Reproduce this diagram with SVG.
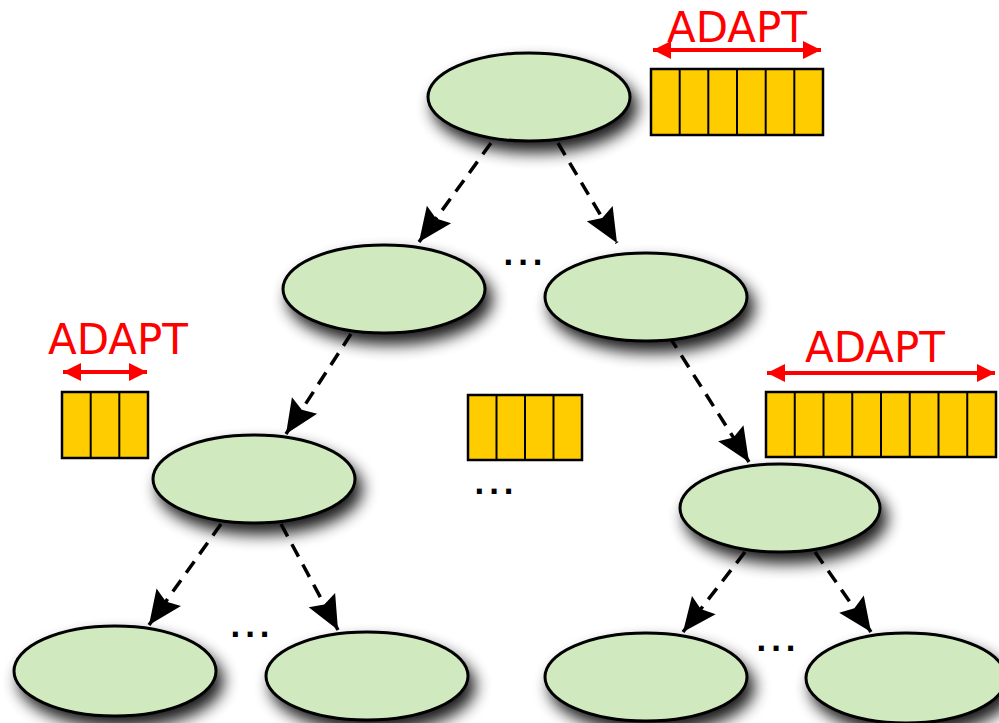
<svg xmlns="http://www.w3.org/2000/svg" width="999" height="723" viewBox="0 0 999 723">
<defs>
<filter id="sh" x="-30%" y="-40%" width="170%" height="200%">
<feGaussianBlur in="SourceAlpha" stdDeviation="8"/>
<feOffset dx="6" dy="10" result="b"/>
<feComponentTransfer><feFuncA type="linear" slope="0.9"/></feComponentTransfer>
<feMerge><feMergeNode/><feMergeNode in="SourceGraphic"/></feMerge>
</filter>
<marker id="ah" markerUnits="userSpaceOnUse" markerWidth="40" markerHeight="32" refX="34" refY="15" orient="auto" overflow="visible">
<path d="M0,0 L34,15 L0,30 L5,15 Z" fill="#000" stroke="none"/>
</marker>
<marker id="ra" markerUnits="userSpaceOnUse" markerWidth="20" markerHeight="20" refX="18" refY="9" orient="auto-start-reverse" overflow="visible">
<path d="M0,0 L18,9 L0,18 Z" fill="#ff0000" stroke="none"/>
</marker>
</defs>
<style>
.n{fill:#d0e9bf;stroke:#000;stroke-width:3}
.c{fill:none;stroke:#000;stroke-width:3.5;stroke-dasharray:14 9;marker-end:url(#ah)}
.buf{fill:#ffcc00;stroke:#000;stroke-width:2.5}
.ln{stroke:#000;stroke-width:2}
.ra{stroke:#ff0000;stroke-width:4;marker-start:url(#ra);marker-end:url(#ra)}
.t{font-family:"DejaVu Sans",sans-serif;font-size:42px;fill:#ff0000}
.d{font-family:"DejaVu Sans",sans-serif;font-weight:bold;font-size:28px;fill:#000;letter-spacing:4px}
</style>
<rect width="999" height="723" fill="#fff"/>

<g id="connectors">
<line class="c" x1="491" y1="143" x2="419" y2="242"/>
<line class="c" x1="558" y1="143" x2="617" y2="243"/>
<line class="c" x1="351" y1="334" x2="286" y2="434"/>
<line class="c" x1="669" y1="336" x2="749" y2="462"/>
<line class="c" x1="221" y1="524" x2="149" y2="625"/>
<line class="c" x1="281" y1="524" x2="338" y2="630"/>
<line class="c" x1="745" y1="552" x2="683" y2="632"/>
<line class="c" x1="815" y1="552" x2="871" y2="632"/>
</g>

<g id="n0"><ellipse class="n" cx="529" cy="97" rx="101" ry="44" filter="url(#sh)"/></g>
<g id="n1"><ellipse class="n" cx="384" cy="289" rx="101" ry="44" filter="url(#sh)"/></g>
<g id="n2"><ellipse class="n" cx="646" cy="297" rx="101" ry="44" filter="url(#sh)"/></g>
<g id="n3"><ellipse class="n" cx="254" cy="479" rx="101" ry="44" filter="url(#sh)"/></g>
<g id="n4"><ellipse class="n" cx="780" cy="508" rx="100" ry="44" filter="url(#sh)"/></g>
<g id="n5"><ellipse class="n" cx="115" cy="671" rx="101" ry="45" filter="url(#sh)"/></g>
<g id="n6"><ellipse class="n" cx="367" cy="676" rx="101" ry="44" filter="url(#sh)"/></g>
<g id="n7"><ellipse class="n" cx="646" cy="677" rx="101" ry="44" filter="url(#sh)"/></g>
<g id="n8"><ellipse class="n" cx="906" cy="678" rx="100" ry="45" filter="url(#sh)"/></g>

<g id="buf-top">
<rect class="buf" x="651" y="69" width="172" height="66"/>
<line class="ln" x1="679.7" y1="69" x2="679.7" y2="135"/>
<line class="ln" x1="708.3" y1="69" x2="708.3" y2="135"/>
<line class="ln" x1="737" y1="69" x2="737" y2="135"/>
<line class="ln" x1="765.7" y1="69" x2="765.7" y2="135"/>
<line class="ln" x1="794.3" y1="69" x2="794.3" y2="135"/>
<line class="ra" x1="653" y1="50" x2="821" y2="50"/>
<text class="t" x="737" y="42" text-anchor="middle">ADAPT</text>
</g>

<g id="buf-left">
<rect class="buf" x="62" y="392" width="86" height="66"/>
<line class="ln" x1="90.7" y1="392" x2="90.7" y2="458"/>
<line class="ln" x1="119.3" y1="392" x2="119.3" y2="458"/>
<line class="ra" x1="63" y1="372" x2="147" y2="372"/>
<text class="t" x="118" y="354" text-anchor="middle">ADAPT</text>
</g>

<g id="buf-mid">
<rect class="buf" x="468" y="395" width="114" height="65"/>
<line class="ln" x1="496.5" y1="395" x2="496.5" y2="460"/>
<line class="ln" x1="525" y1="395" x2="525" y2="460"/>
<line class="ln" x1="553.5" y1="395" x2="553.5" y2="460"/>
</g>

<g id="buf-right">
<rect class="buf" x="766" y="392" width="230" height="65"/>
<line class="ln" x1="794.75" y1="392" x2="794.75" y2="457"/>
<line class="ln" x1="823.5" y1="392" x2="823.5" y2="457"/>
<line class="ln" x1="852.25" y1="392" x2="852.25" y2="457"/>
<line class="ln" x1="881" y1="392" x2="881" y2="457"/>
<line class="ln" x1="909.75" y1="392" x2="909.75" y2="457"/>
<line class="ln" x1="938.5" y1="392" x2="938.5" y2="457"/>
<line class="ln" x1="967.25" y1="392" x2="967.25" y2="457"/>
<line class="ra" x1="767" y1="373" x2="995" y2="373"/>
<text class="t" x="875" y="362" text-anchor="middle">ADAPT</text>
</g>

<g id="dots">
<text class="d" x="503" y="265">...</text>
<text class="d" x="474" y="494">...</text>
<text class="d" x="230" y="637">...</text>
<text class="d" x="756" y="651">...</text>
</g>
</svg>
